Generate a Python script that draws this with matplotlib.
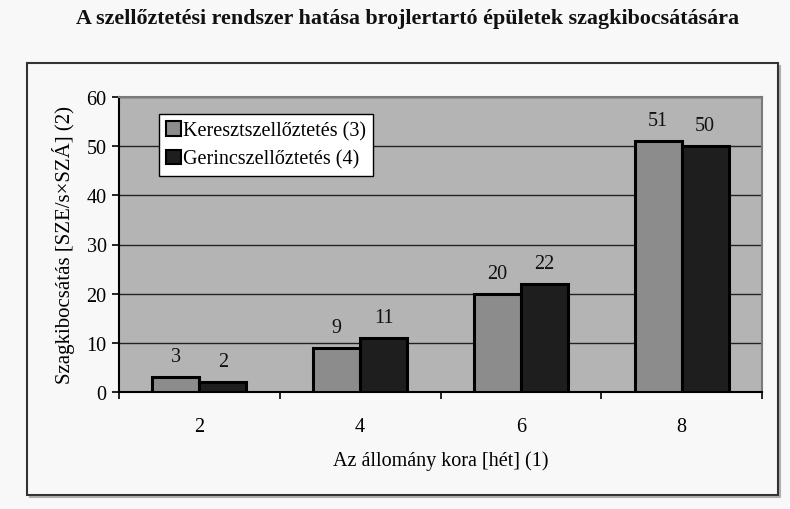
import matplotlib
matplotlib.use("Agg")
import matplotlib.pyplot as plt
from matplotlib.patches import Rectangle
from matplotlib.lines import Line2D
import numpy as np

categories = ["2", "4", "6", "8"]
series_names = ["Keresztszellőztetés (3)", "Gerincszellőztetés (4)"]
kereszt = [3, 9, 20, 51]
gerinc = [2, 11, 22, 50]
yticks = [0, 10, 20, 30, 40, 50, 60]

title = "A szellőztetési rendszer hatása brojlertartó épületek szagkibocsátására"
ylabel = "Szagkibocsátás [SZE/s×SZÁ] (2)"
xlabel = "Az állomány kora [hét] (1)"

plt.rcParams['font.family'] = ['Liberation Serif', 'DejaVu Serif']

W, H = 790, 510
fig = plt.figure(figsize=(7.9, 5.1), dpi=100)
fig.patch.set_facecolor('#f8f8f8')

def fx(x): return x / W
def fy(y): return 1 - y / H

# outer box with shadow on right/bottom
fig.lines.append(Line2D([fx(30), fx(780), fx(780)], [fy(498), fy(498), fy(67)],
                        transform=fig.transFigure, color='#b0b0b0', lw=1.5, zorder=0))
fig.patches.append(Rectangle((fx(27), fy(496)), fx(778 - 27), (496 - 64) / H,
                             transform=fig.transFigure, facecolor='none',
                             edgecolor='#333333', lw=1.5, zorder=1))

fig.text(fx(408), fy(19), title, ha='center', va='center', fontsize=15.8,
         fontweight='bold', color='#111111')

FS = 14.5
left, right, top, bottom = 119, 762, 98, 393
ax = fig.add_axes([fx(left), fy(bottom), fx(right - left), (bottom - top) / H])
ax.set_facecolor('#b4b4b4')

x = np.arange(len(categories))
w = 0.292
b1 = ax.bar(x - w / 2, kereszt, width=w, color='#8c8c8c', edgecolor='black',
            linewidth=2.2, zorder=3, label=series_names[0])
b2 = ax.bar(x + w / 2, gerinc, width=w, color='#1e1e1e', edgecolor='black',
            linewidth=2.2, zorder=3, label=series_names[1])

for bars, vals in ((b1, kereszt), (b2, gerinc)):
    for r, v in zip(bars, vals):
        ax.annotate(str(v), (r.get_x() + r.get_width() / 2, v),
                    xytext=(0, 8), textcoords='offset points',
                    ha='center', va='bottom', fontsize=FS, color='#111111')

ax.set_ylim(0, 60)
ax.set_xlim(-0.5, len(categories) - 0.5)
ax.set_yticks(yticks)
ax.set_yticklabels([str(t) for t in yticks], fontsize=FS)
ax.set_xticks(x)
ax.set_xticklabels(categories, fontsize=FS)
ax.set_xticks(np.arange(len(categories) + 1) - 0.5, minor=True)
ax.tick_params(axis='x', which='major', length=0, pad=18)
ax.tick_params(axis='x', which='minor', length=5, width=1.2, direction='out')
ax.tick_params(axis='y', length=5, width=1.2, direction='out', pad=4)

ax.yaxis.grid(True, color='#222222', linewidth=1.0, zorder=1)
ax.set_axisbelow(True)

for s in ('left', 'bottom'):
    ax.spines[s].set_color('black')
    ax.spines[s].set_linewidth(1.5)
for s in ('top', 'right'):
    ax.spines[s].set_color('#7a7a7a')
    ax.spines[s].set_linewidth(1.5)

ax.set_ylabel(ylabel, fontsize=FS + 0.5, labelpad=8)
ax.set_xlabel(xlabel, fontsize=FS, labelpad=10)

leg = ax.legend(loc='upper left', bbox_to_anchor=((159 - left) / (right - left), (bottom - 115) / (bottom - top)),
                borderaxespad=0, fontsize=FS, frameon=True, fancybox=False,
                handlelength=0.75, handleheight=0.75, handletextpad=0.1,
                borderpad=0.35, labelspacing=0.45)
leg.get_frame().set_edgecolor('black')
leg.get_frame().set_facecolor('white')
leg.get_frame().set_alpha(1)
leg.get_frame().set_linewidth(1.0)
for h in leg.legend_handles:
    h.set_linewidth(1.5)

fig.savefig("out.png", dpi=100, facecolor=fig.get_facecolor())
